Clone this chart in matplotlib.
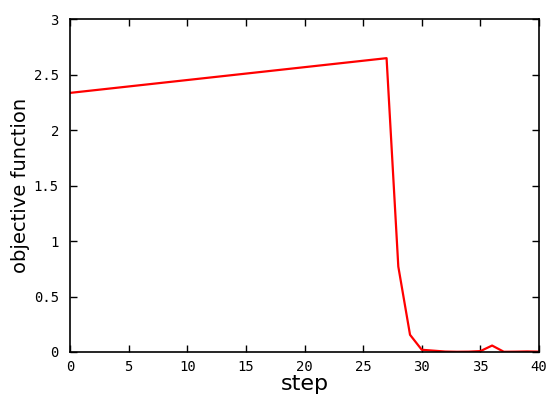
import matplotlib
matplotlib.use("Agg")
import matplotlib.pyplot as plt

# objective function per step (vertices)
steps = [0, 27, 28, 29, 30, 31, 32, 33, 34, 35, 36, 37, 38, 39, 40]
objective = [2.335, 2.648, 0.77, 0.155, 0.02, 0.012, 0.004, 0.002, 0.003, 0.008, 0.058, 0.002, 0.003, 0.005, 0.003]

xticks = [0, 5, 10, 15, 20, 25, 30, 35, 40]
yticks = [0, 0.5, 1, 1.5, 2, 2.5, 3]
ytick_labels = ["0", "0.5", "1", "1.5", "2", "2.5", "3"]

fig = plt.figure(figsize=(5.5, 3.98), dpi=100)
ax = fig.add_axes([0.1273, 0.1156, 0.8527, 0.8364])

ax.plot(steps, objective, color="#ff0000", linewidth=1.6)

ax.set_xlim(0, 40)
ax.set_ylim(0, 3)
ax.set_xticks(xticks)
ax.set_yticks(yticks)
ax.set_yticklabels(ytick_labels)
ax.tick_params(direction="in", top=True, right=True, length=5, width=1, pad=6)
ax.tick_params(axis="y", pad=8)
for lab in ax.get_xticklabels() + ax.get_yticklabels():
    lab.set_family("DejaVu Sans Mono")
    lab.set_fontsize(10)
for sp in ax.spines.values():
    sp.set_linewidth(1.2)

ax.set_xlabel("step", fontsize=16, labelpad=0)
ax.set_ylabel("objective function", fontsize=14, labelpad=3)

fig.savefig("out.png", dpi=100)
